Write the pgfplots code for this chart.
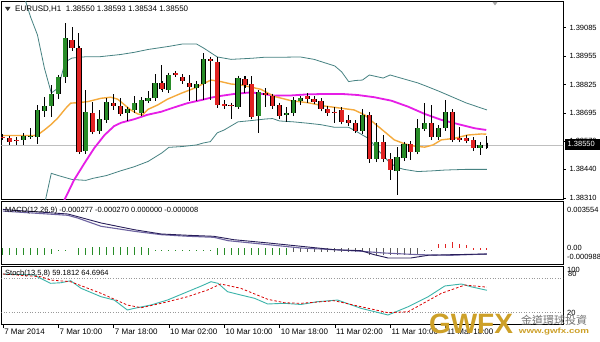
\documentclass[border=0pt]{standalone}
\usepackage{fontspec}
\setmainfont{Liberation Sans}
\newfontfamily\cjk{Noto Sans CJK TC}
\usepackage{pgfplots}
\pgfplotsset{compat=1.18}
\usepackage{pgfplotstable}
\definecolor{cgreen}{RGB}{40,140,40}
\definecolor{cred}{RGB}{225,35,35}
\definecolor{maorange}{RGB}{245,170,60}
\definecolor{mamag}{RGB}{230,30,230}
\definecolor{bband}{RGB}{70,130,130}
\definecolor{macdA}{RGB}{40,30,90}
\definecolor{macdB}{RGB}{110,100,160}
\definecolor{stmain}{RGB}{60,180,170}
\definecolor{gold}{RGB}{205,160,40}

\pgfplotstableread{
i o h l c
3 1.38577 1.38604 1.38551 1.38592
4 1.38591 1.38631 1.38581 1.38593
5 1.38586 1.38733 1.38556 1.38710
6 1.38707 1.38768 1.38680 1.38728
7 1.38731 1.38824 1.38677 1.38783
8 1.38783 1.38869 1.38761 1.38859
9 1.38859 1.39106 1.38834 1.39036
12 1.38521 1.38801 1.38518 1.38698
14 1.38616 1.38713 1.38611 1.38669
15 1.38665 1.38763 1.38661 1.38748
18 1.38695 1.38722 1.38661 1.38713
19 1.38710 1.38774 1.38702 1.38741
20 1.38695 1.38768 1.38692 1.38755
21 1.38754 1.38798 1.38751 1.38766
22 1.38763 1.38874 1.38759 1.38834
24 1.38801 1.38877 1.38798 1.38869
28 1.38813 1.38839 1.38752 1.38831
29 1.38831 1.38971 1.38755 1.38941
34 1.38725 1.38861 1.38718 1.38854
37 1.38683 1.38793 1.38607 1.38790
41 1.38688 1.38725 1.38658 1.38698
42 1.38695 1.38768 1.38692 1.38755
43 1.38752 1.38774 1.38733 1.38763
52 1.38616 1.38718 1.38613 1.38688
54 1.38486 1.38650 1.38483 1.38566
57 1.38434 1.38543 1.38324 1.38495
58 1.38491 1.38566 1.38483 1.38556
60 1.38521 1.38672 1.38516 1.38627
61 1.38627 1.38743 1.38619 1.38652
63 1.38589 1.38642 1.38574 1.38627
64 1.38627 1.38755 1.38619 1.38702
69 1.38536 1.38566 1.38509 1.38554
70 1.38550 1.38593 1.38534 1.38550
}\greentab

\pgfplotstableread{
i o h l c
0 1.38589 1.38601 1.38578 1.38587
1 1.38581 1.38589 1.38551 1.38566
2 1.38574 1.38581 1.38551 1.38572
10 1.39031 1.39087 1.38986 1.38991
11 1.38991 1.39059 1.38518 1.38521
13 1.38698 1.38748 1.38607 1.38611
16 1.38741 1.38783 1.38713 1.38728
17 1.38728 1.38763 1.38692 1.38695
23 1.38831 1.38915 1.38801 1.38804
25 1.38877 1.38884 1.38861 1.38875
26 1.38861 1.38874 1.38828 1.38843
27 1.38834 1.38869 1.38755 1.38813
30 1.38941 1.38942 1.38755 1.38934
31 1.38930 1.38952 1.38728 1.38733
32 1.38737 1.38755 1.38718 1.38728
33 1.38733 1.38741 1.38672 1.38731
35 1.38853 1.38867 1.38787 1.38824
36 1.38831 1.38865 1.38672 1.38680
38 1.38786 1.38809 1.38725 1.38778
39 1.38774 1.38786 1.38725 1.38728
40 1.38733 1.38741 1.38677 1.38683
44 1.38774 1.38778 1.38741 1.38759
45 1.38761 1.38768 1.38741 1.38748
46 1.38751 1.38759 1.38707 1.38716
47 1.38716 1.38725 1.38690 1.38695
48 1.38702 1.38725 1.38650 1.38701
49 1.38710 1.38718 1.38650 1.38657
50 1.38665 1.38688 1.38646 1.38650
51 1.38652 1.38657 1.38611 1.38616
53 1.38688 1.38692 1.38468 1.38486
55 1.38566 1.38596 1.38483 1.38486
56 1.38486 1.38513 1.38392 1.38437
59 1.38556 1.38559 1.38483 1.38521
62 1.38652 1.38733 1.38574 1.38586
65 1.38702 1.38710 1.38571 1.38577
66 1.38586 1.38634 1.38574 1.38577
67 1.38586 1.38592 1.38566 1.38571
68 1.38574 1.38589 1.38532 1.38536
}\redtab

% MACD histogram segments (low and high ends)
\pgfplotstableread{
i lo hi
0 -0.000346 0.000164
1 -0.000346 0.000164
2 -0.000346 0.000164
3 -0.000346 0.000164
4 -0.000346 0.000164
5 -0.000346 0.000164
6 -0.000346 0.000164
7 -0.000300 0.000120
8 -0.000033 0.000040
9 -0.000033 0.000040
11 -0.000346 0.000164
12 -0.000346 0.000164
13 -0.000380 0.000200
14 -0.000380 0.000200
15 -0.000380 0.000200
16 -0.000380 0.000200
17 -0.000380 0.000200
18 -0.000380 0.000200
19 -0.000380 0.000200
20 -0.000380 0.000200
21 -0.000346 0.000164
22 -0.000033 0.000040
23 -0.000033 0.000040
24 -0.000033 0.000040
25 -0.000033 0.000040
26 -0.000033 0.000040
27 -0.000033 0.000040
28 -0.000033 0.000040
29 -0.000033 0.000040
30 -0.000033 0.000040
31 -0.000346 0.000164
32 -0.000346 0.000164
33 -0.000346 0.000164
34 -0.000346 0.000164
35 -0.000346 0.000164
36 -0.000346 0.000164
37 -0.000346 0.000164
38 -0.000346 0.000164
39 -0.000346 0.000164
40 -0.000346 0.000164
41 -0.000346 0.000164
}\histgreen

\pgfplotstableread{
i lo hi
42 -0.000164 0.000164
43 -0.000164 0.000164
44 -0.000164 0.000164
45 -0.000164 0.000164
46 -0.000164 0.000164
47 -0.000164 0.000164
48 -0.000164 0.000164
49 -0.000164 0.000164
50 -0.000164 0.000164
51 -0.000164 0.000164
52 -0.000164 0.000164
53 -0.000346 0.000164
54 -0.000346 0.000164
55 -0.000346 0.000164
56 -0.000346 0.000164
57 -0.000346 0.000164
58 -0.000346 0.000164
59 -0.000346 0.000164
60 -0.000346 0.000164
61 -0.000033 0.000040
62 -0.000033 0.000040
}\histdark

\pgfplotstableread{
i lo hi
63 0.000128 0.000456
64 0.000128 0.000456
65 0.000128 0.000602
66 0.000128 0.000456
67 0.000128 0.000350
68 0.000090 0.000150
69 0.000090 0.000150
70 0.000090 0.000150
}\histred

\pgfplotsset{
  wick/.style={draw=none, mark=none, forget plot,
    error bars/.cd, y dir=both, y explicit, error mark=none,
    error bar style={black, line width=0.9pt}},
  bodyedge/.style={draw=none, mark=none, forget plot,
    error bars/.cd, y dir=both, y explicit, error mark=-,
    error mark options={black, line width=0.8pt, mark size=2.6pt},
    error bar style={black, line width=5.2pt}},
  bodyfill/.style={draw=none, mark=none, forget plot,
    error bars/.cd, y dir=both, y explicit, error mark=none,
    error bar style={#1, line width=3.6pt}},
  histo/.style={draw=none, mark=none, forget plot,
    error bars/.cd, y dir=both, y explicit, error mark=none,
    error bar style={#1, line width=0.9pt}},
  panel/.style={scale only axis, width=561.5pt, xmin=-0.2, xmax=81,
    axis line style={black, line width=0.8pt}, anchor=south west,
    clip=true},
}

\begin{document}
\begin{tikzpicture}[x=1pt,y=1pt]
\useasboundingbox (0,0) rectangle (600,341);
\fill[white] (0,0) rectangle (600,341);

% ---------------- main price panel ----------------
\begin{axis}[panel, at={(1.5pt,141.5pt)}, height=198pt,
  ymin=1.38303, ymax=1.39203,
  xtick=\empty,
  ytick={1.38310,1.38440,1.38570,1.38695,1.38825,1.38955,1.39085},
  ytick pos=right, yticklabel pos=right,
  tick align=outside, major tick length=2.5pt,
  tick style={black, line width=0.5pt},
  scaled y ticks=false,
  yticklabel style={font=\fontsize{7.5}{8}\selectfont, xshift=0.5pt},
  /pgf/number format/fixed, /pgf/number format/fixed zerofill,
  /pgf/number format/precision=5, /pgf/number format/assume math mode=true]
% current price line
\addplot[black!25, line width=0.8pt] coordinates {(-1,1.38550) (82,1.38550)};
% Bollinger bands
\addplot[bband, line width=0.8pt] coordinates {
(3,1.39233) (4,1.39133) (5,1.39051) (6,1.38901) (7,1.38787) (8,1.38810)
(9,1.38928) (10,1.38946) (12,1.38952) (14,1.38952) (17,1.38962) (19,1.38972)
(21,1.38985) (24,1.38999) (26,1.39010) (28,1.39010) (29,1.38992) (31,1.38951)
(33,1.38940) (36,1.38945) (38,1.38950) (41,1.38950) (43,1.38951) (45,1.38940)
(48,1.38910) (49,1.38883) (50,1.38839) (51,1.38844) (52,1.38846) (53,1.38869)
(55,1.38855) (56,1.38869) (58,1.38851) (60,1.38833) (61,1.38821) (63,1.38796)
(65,1.38769) (67,1.38742) (70,1.38710)};
\addplot[bband, line width=0.8pt] coordinates {
(6,1.38278) (7,1.38422) (8,1.38412) (9,1.38403) (10,1.38394) (12,1.38390)
(13,1.38399) (15,1.38412) (17,1.38433) (19,1.38452) (21,1.38476) (23,1.38515)
(24,1.38540) (26,1.38544) (28,1.38551) (29,1.38560) (30,1.38566) (31,1.38606)
(32,1.38619) (34,1.38656) (36,1.38662) (38,1.38669) (39,1.38671) (40,1.38660)
(42,1.38656) (44,1.38650) (46,1.38643) (48,1.38631) (50,1.38631) (51,1.38615)
(52,1.38596) (53,1.38578) (54,1.38537) (55,1.38501) (56,1.38469) (57,1.38449)
(58,1.38440) (60,1.38430) (62,1.38433) (64,1.38437) (67,1.38440) (70,1.38440)};
% moving averages
\addplot[mamag, line width=1.8pt] coordinates {
(8.3,1.38270) (8.9,1.38301) (10.3,1.38392) (11.8,1.38468) (13.2,1.38536)
(14.7,1.38596) (16.1,1.38637) (17.1,1.38652) (19.0,1.38668) (20.9,1.38688)
(22.9,1.38702) (24.8,1.38722) (26.7,1.38741) (28.7,1.38755) (30.1,1.38766)
(31.5,1.38774) (33.5,1.38783) (35.9,1.38790) (39.3,1.38775) (41.7,1.38776)
(44.1,1.38781) (47.0,1.38783) (48.9,1.38783) (51.3,1.38778) (53.7,1.38768)
(56.2,1.38752) (58.6,1.38725) (61.0,1.38692) (63.4,1.38665) (65.8,1.38646)
(68.2,1.38627) (69.9,1.38619)};
\addplot[maorange, line width=1.4pt] coordinates {
(0,1.38594) (4.5,1.38594) (5.0,1.38596) (6.0,1.38619) (6.9,1.38642)
(7.9,1.38672) (9.1,1.38718) (9.8,1.38741) (10.8,1.38743) (12.3,1.38748)
(14.2,1.38763) (15.6,1.38768) (16.6,1.38759) (17.6,1.38733) (18.5,1.38710)
(19.5,1.38692) (20.2,1.38688) (21.0,1.38713) (22.4,1.38733) (23.8,1.38759)
(25.8,1.38786) (27.7,1.38809) (29.1,1.38831) (30.1,1.38846) (31.5,1.38839)
(33.0,1.38828) (34.4,1.38824) (37.3,1.38804) (39.3,1.38771) (41.7,1.38752)
(44.1,1.38743) (46.5,1.38728) (48.9,1.38718) (50.8,1.38710) (52.3,1.38688)
(53.7,1.38650) (55.2,1.38611) (56.6,1.38574) (58.1,1.38556) (59.5,1.38546)
(61.0,1.38541) (62.2,1.38551) (63.4,1.38574) (65.3,1.38581) (67.2,1.38596)
(69.2,1.38601) (69.9,1.38600)};
% candles
\addplot[wick] table[x=i, y expr={(\thisrow{h}+\thisrow{l})/2}, y error expr={(\thisrow{h}-\thisrow{l})/2}] \greentab;
\addplot[wick] table[x=i, y expr={(\thisrow{h}+\thisrow{l})/2}, y error expr={(\thisrow{h}-\thisrow{l})/2}] \redtab;
\addplot[bodyedge] table[x=i, y expr={(\thisrow{o}+\thisrow{c})/2}, y error expr={abs(\thisrow{c}-\thisrow{o})/2}] \greentab;
\addplot[bodyedge] table[x=i, y expr={(\thisrow{o}+\thisrow{c})/2}, y error expr={abs(\thisrow{c}-\thisrow{o})/2}] \redtab;
\addplot[bodyfill=cgreen] table[x=i, y expr={(\thisrow{o}+\thisrow{c})/2}, y error expr={abs(\thisrow{c}-\thisrow{o})/2}] \greentab;
\addplot[bodyfill=cred] table[x=i, y expr={(\thisrow{o}+\thisrow{c})/2}, y error expr={abs(\thisrow{c}-\thisrow{o})/2}] \redtab;
\end{axis}

% ---------------- MACD panel ----------------
\begin{axis}[panel, at={(1.5pt,76.5pt)}, height=63pt,
  ymin=-0.00104, ymax=0.003554, xtick=\empty, ytick=\empty]
\addplot[histo=cgreen] table[x=i, y expr={(\thisrow{lo}+\thisrow{hi})/2}, y error expr={(\thisrow{hi}-\thisrow{lo})/2}] \histgreen;
\addplot[histo=black!65] table[x=i, y expr={(\thisrow{lo}+\thisrow{hi})/2}, y error expr={(\thisrow{hi}-\thisrow{lo})/2}] \histdark;
\addplot[histo=cred] table[x=i, y expr={(\thisrow{lo}+\thisrow{hi})/2}, y error expr={(\thisrow{hi}-\thisrow{lo})/2}] \histred;
\addplot[macdB, line width=1.1pt] coordinates {
(0,0.002860) (0.4,0.002840) (9.4,0.002548) (10.8,0.002351) (14.2,0.001746)
(19.0,0.001382) (22.9,0.001134) (26.8,0.001017) (30.5,0.000944) (32.6,0.000696)
(38.4,0.000405) (43.1,0.000164) (47.9,0.000040) (51.8,-0.000076) (55.1,-0.000200)
(60.1,-0.000324) (64.8,-0.000368) (70,-0.000270)};
\addplot[macdA, line width=0.9pt] coordinates {
(0,0.002980) (0.4,0.002956) (9.4,0.002643) (14.2,0.001987) (19.0,0.001498)
(22.9,0.001185) (26.8,0.001090) (30.5,0.001017) (33.4,0.000769) (38.4,0.000529)
(43.1,0.000288) (47.9,0.000040) (51.8,-0.000033) (53.7,-0.000324) (55.7,-0.000565)
(59.0,-0.000565) (61.5,-0.000368) (64.8,-0.000324) (70,-0.000277)};
\end{axis}

% ---------------- Stochastic panel ----------------
\begin{axis}[panel, at={(1.5pt,16.5pt)}, height=58.5pt,
  ymin=-0.5, ymax=101.6, ytick=\empty,
  xtick={0,8,16,24,32,40,48,56,64},
  xticklabels={7 Mar 2014,7 Mar 10:00,7 Mar 18:00,10 Mar 02:00,10 Mar 10:00,10 Mar 18:00,11 Mar 02:00,11 Mar 10:00,11 Mar 18:00},
  xtick pos=bottom, tick align=outside, major tick length=3.5pt,
  tick style={black, line width=0.6pt},
  xticklabel style={font=\fontsize{8}{9}\selectfont, anchor=north west, inner sep=0pt, xshift=1.2pt, yshift=-1pt}]
\addplot[black!40, dotted, line width=0.6pt] coordinates {(-1,80) (82,80)};
\addplot[black!40, dotted, line width=0.6pt] coordinates {(-1,20) (82,20)};
\addplot[stmain, line width=0.9pt] coordinates {
(0,87.6) (4.5,85.9) (6.9,71.4) (8.4,72.4) (9.8,75.9) (11.3,62.7) (14.2,48.0)
(16.1,42.2) (18.0,24.8) (19.0,27.7) (21.4,33.5) (23.8,42.2) (26.7,56.7) (28.7,66.7)
(30.1,74.2) (31.1,71.4) (32.5,56.7) (34.4,51.0) (36.4,45.2) (38.3,35.3) (40.7,36.5)
(43.1,34.4) (45.5,39.3) (48.4,42.2) (51.8,27.7) (55.7,16.1) (58.6,30.5) (61.5,48.0)
(63.9,66.7) (66.3,70.2) (67.7,65.4) (70,59.2)};
\addplot[red!85!black, dash pattern=on 2.5pt off 2pt, line width=0.8pt] coordinates {
(0,87.6) (5.5,82.9) (6.9,77.1) (9.8,74.2) (14.2,53.9) (18.0,33.5) (20.0,28.8)
(22.9,36.5) (26.7,48.0) (29.6,59.7) (31.5,70.2) (34.4,62.7) (38.3,43.5) (40.7,37.5)
(43.1,36.5) (47.9,41.0) (55.7,20.1) (58.6,21.8) (63.4,53.9) (66.8,68.4) (70,64.7)};
\end{axis}

% ---------------- texts ----------------
\fill[black!80] (5,334) -- (10.5,334) -- (7.75,330) -- cycle;
\node[anchor=west, inner sep=0pt, font=\fontsize{8}{9}\selectfont] at (15,332) {EURUSD,H1\ \ 1.38550 1.38593 1.38534 1.38550};
\fill[black!35] (492.5,339) -- (497.5,339) -- (495,335.5) -- cycle;
\node[anchor=west, inner sep=0pt, font=\fontsize{7.5}{8}\selectfont] at (5,130.5) {MACD(12,26,9) -0.000277 -0.000270 0.000000 -0.000008};
\node[anchor=west, inner sep=0pt, font=\fontsize{7.5}{8}\selectfont] at (5,67.5) {Stoch(13,5,8) 59.1812 64.6964};
% price box
\fill[black] (564.5,191.5) rectangle (600,202);
\node[anchor=west, inner sep=0pt, text=white, font=\fontsize{7.5}{8}\selectfont] at (567.5,196.7) {1.38550};
% sub-window scales
\begin{scope}[font=\fontsize{7.5}{8}\selectfont]
\node[anchor=west, inner sep=0pt] at (567,131) {0.003554};
\node[anchor=west, inner sep=0pt] at (567,92.7) {0.00};
\node[anchor=west, inner sep=0pt] at (567,84.3) {-0.000988};
\node[anchor=west, inner sep=0pt] at (567,71.5) {100};
\node[anchor=west, inner sep=0pt] at (568,67.5) {80};
\node[anchor=west, inner sep=0pt] at (567,28.5) {20};
\end{scope}
% watermark
\node[inner sep=0pt, text=gold, font=\bfseries\fontsize{28}{28}\selectfont] at (471,17.5) {GWFX};
\node[inner sep=0pt, text=black!55, font=\cjk\fontsize{11}{11}\selectfont] at (554,21) {金道環球投資};
\node[inner sep=0pt, text=gold, font=\bfseries\fontsize{7.5}{8}\selectfont] at (554,9.5) {\scalebox{1.3}[1]{www.gwfx.com}};
\end{tikzpicture}
\end{document}
